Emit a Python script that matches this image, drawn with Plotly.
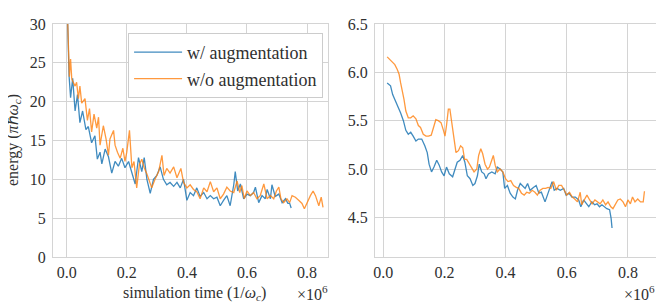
import plotly.graph_objects as go

# ---- data (simulation time in units of 1e6 / omega_c) ----
raw_w_t = [0.002, 0.008, 0.013, 0.02, 0.028, 0.036, 0.044, 0.053, 0.064, 0.072, 0.083, 0.094, 0.102,
           0.111, 0.117, 0.128, 0.139, 0.15, 0.161, 0.172, 0.183, 0.194, 0.206, 0.217, 0.228, 0.239,
           0.25, 0.258, 0.267, 0.278, 0.289, 0.3, 0.311, 0.322, 0.333, 0.344, 0.356, 0.367, 0.378,
           0.389, 0.4, 0.411, 0.422, 0.433, 0.444, 0.456, 0.467, 0.478, 0.489, 0.5, 0.511, 0.522,
           0.533, 0.544, 0.556, 0.561, 0.569, 0.578, 0.589, 0.6, 0.611, 0.622, 0.628, 0.639, 0.65,
           0.661, 0.667, 0.678, 0.683, 0.694, 0.706, 0.717, 0.728, 0.736, 0.742, 0.747]
raw_w_e = [32.0, 23.3, 20.5, 23.0, 18.8, 20.9, 17.3, 18.8, 16.4, 16.8, 14.7, 15.6, 12.6,
           13.5, 12.0, 13.9, 12.9, 10.8, 12.3, 11.7, 12.7, 11.5, 12.3, 10.8, 9.4, 12.8,
           11.0, 12.8, 10.0, 8.2, 10.0, 10.5, 11.6, 10.0, 9.3, 9.6, 9.1, 9.6, 8.9,
           10.0, 7.3, 8.3, 7.9, 8.9, 7.8, 8.3, 7.5, 7.9, 7.5, 7.7, 6.6, 7.3,
           7.9, 6.6, 9.3, 11.0, 8.5, 9.4, 7.5, 8.1, 7.9, 8.3, 9.0, 7.0, 7.9,
           7.5, 8.7, 7.5, 9.3, 7.8, 8.1, 7.0, 7.5, 6.9, 6.9, 6.3]

raw_wo_t = [0.002, 0.006, 0.009, 0.013, 0.017, 0.022, 0.028, 0.033, 0.039, 0.044, 0.05, 0.061, 0.069,
            0.076, 0.083, 0.091, 0.1, 0.106, 0.111, 0.122, 0.131, 0.139, 0.144, 0.156, 0.161, 0.169,
            0.178, 0.187, 0.194, 0.2, 0.209, 0.217, 0.224, 0.233, 0.242, 0.25, 0.258, 0.267, 0.276,
            0.283, 0.294, 0.306, 0.317, 0.324, 0.333, 0.344, 0.356, 0.367, 0.38, 0.389, 0.4, 0.411,
            0.422, 0.433, 0.444, 0.456, 0.467, 0.478, 0.489, 0.5, 0.511, 0.522, 0.533, 0.544, 0.556,
            0.567, 0.576, 0.583, 0.591, 0.6, 0.611, 0.622, 0.633, 0.644, 0.656, 0.667, 0.678, 0.689,
            0.698, 0.706, 0.713, 0.722, 0.733, 0.742, 0.75, 0.761, 0.772, 0.783, 0.791, 0.8, 0.811,
            0.82, 0.828, 0.839, 0.847, 0.853]
raw_wo_e = [32.0, 25.7, 23.2, 25.5, 22.9, 22.5, 22.0, 22.5, 20.4, 22.0, 19.8, 20.4, 17.6,
            19.1, 16.1, 18.4, 16.6, 18.0, 14.4, 16.9, 15.2, 13.1, 15.2, 16.3, 14.4, 13.5,
            12.7, 14.0, 12.3, 13.5, 16.3, 11.5, 12.3, 8.9, 11.9, 12.6, 11.5, 10.7, 9.6,
            8.9, 10.0, 11.0, 13.1, 10.5, 11.4, 10.8, 11.6, 10.2, 11.4, 9.6, 8.9, 9.3,
            8.7, 8.4, 7.5, 8.9, 8.4, 9.7, 8.4, 8.9, 7.5, 8.1, 9.0, 8.5, 8.3,
            9.8, 8.3, 9.2, 7.5, 8.5, 7.9, 8.3, 7.5, 7.9, 9.4, 7.5, 7.9, 7.5,
            8.5, 9.0, 7.5, 7.0, 7.5, 7.0, 7.9, 7.7, 7.3, 6.9, 6.2, 7.0, 7.9,
            8.5, 7.9, 6.6, 7.7, 6.4]

smooth_w_t = [0.013, 0.024, 0.031, 0.038, 0.049, 0.057, 0.066, 0.074, 0.082, 0.09, 0.098, 0.107, 0.115,
              0.126, 0.136, 0.144, 0.15, 0.158, 0.166, 0.175, 0.183, 0.191, 0.199, 0.207, 0.216, 0.227,
              0.235, 0.242, 0.251, 0.26, 0.267, 0.275, 0.284, 0.293, 0.3, 0.308, 0.314, 0.322, 0.33,
              0.336, 0.344, 0.355, 0.366, 0.373, 0.382, 0.391, 0.397, 0.406, 0.415, 0.424, 0.432, 0.439,
              0.448, 0.456, 0.464, 0.472, 0.48, 0.491, 0.5, 0.509, 0.517, 0.529, 0.537, 0.546, 0.552,
              0.559, 0.568, 0.579, 0.59, 0.598, 0.607, 0.617, 0.628, 0.639, 0.646, 0.655, 0.664, 0.672,
              0.682, 0.691, 0.699, 0.707, 0.715, 0.723, 0.731, 0.74, 0.745, 0.748]
smooth_w_e = [5.89, 5.86, 5.77, 5.72, 5.65, 5.58, 5.50, 5.40, 5.36, 5.38, 5.34, 5.29, 5.31,
              5.31, 5.24, 5.17, 5.05, 4.97, 5.02, 5.09, 5.04, 4.97, 4.93, 5.02, 4.95, 4.92,
              5.00, 5.07, 5.09, 5.14, 5.07, 4.93, 4.90, 4.83, 4.85, 4.93, 5.05, 4.97, 4.95,
              4.90, 4.95, 4.97, 4.95, 5.02, 5.00, 4.97, 4.80, 4.83, 4.75, 4.71, 4.69, 4.78,
              4.85, 4.83, 4.80, 4.85, 4.78, 4.81, 4.83, 4.75, 4.76, 4.66, 4.73, 4.80, 4.87,
              4.78, 4.80, 4.78, 4.80, 4.73, 4.75, 4.71, 4.71, 4.68, 4.61, 4.68, 4.64, 4.61,
              4.66, 4.63, 4.64, 4.61, 4.63, 4.61, 4.59, 4.58, 4.49, 4.39]

smooth_wo_t = [0.013, 0.022, 0.031, 0.038, 0.046, 0.052, 0.057, 0.063, 0.068, 0.074, 0.082, 0.09, 0.098,
               0.107, 0.115, 0.122, 0.131, 0.14, 0.148, 0.157, 0.164, 0.172, 0.18, 0.189, 0.197, 0.202,
               0.207, 0.213, 0.218, 0.225, 0.231, 0.238, 0.246, 0.253, 0.26, 0.266, 0.273, 0.282, 0.29,
               0.297, 0.306, 0.312, 0.319, 0.325, 0.333, 0.341, 0.347, 0.355, 0.36, 0.366, 0.373, 0.382,
               0.391, 0.4, 0.408, 0.417, 0.426, 0.435, 0.443, 0.452, 0.461, 0.469, 0.478, 0.487, 0.496,
               0.504, 0.513, 0.522, 0.531, 0.539, 0.548, 0.557, 0.566, 0.574, 0.583, 0.592, 0.6, 0.609,
               0.618, 0.626, 0.635, 0.644, 0.649, 0.657, 0.666, 0.675, 0.683, 0.692, 0.7, 0.709, 0.718,
               0.727, 0.735, 0.744, 0.751, 0.759, 0.767, 0.775, 0.784, 0.792, 0.8, 0.808, 0.815, 0.823,
               0.832, 0.841, 0.85, 0.854]
smooth_wo_e = [6.16, 6.13, 6.11, 6.08, 6.03, 5.98, 5.89, 5.81, 5.72, 5.60, 5.53, 5.53, 5.55,
               5.52, 5.45, 5.43, 5.36, 5.34, 5.34, 5.35, 5.43, 5.51, 5.50, 5.48, 5.40, 5.34,
               5.45, 5.62, 5.62, 5.45, 5.28, 5.17, 5.19, 5.24, 5.22, 5.10, 5.10, 5.05, 5.00,
               4.97, 5.00, 5.14, 5.21, 5.16, 5.05, 5.00, 5.02, 5.09, 5.14, 5.04, 4.97, 5.00,
               4.97, 4.90, 4.87, 4.88, 4.83, 4.81, 4.80, 4.75, 4.73, 4.76, 4.75, 4.78, 4.76,
               4.73, 4.78, 4.80, 4.80, 4.81, 4.80, 4.87, 4.78, 4.83, 4.83, 4.78, 4.73, 4.76,
               4.71, 4.69, 4.66, 4.76, 4.63, 4.68, 4.73, 4.68, 4.64, 4.68, 4.66, 4.64, 4.68,
               4.63, 4.66, 4.61, 4.59, 4.64, 4.68, 4.69, 4.66, 4.61, 4.68, 4.64, 4.71, 4.66,
               4.69, 4.66, 4.66, 4.77]

series_names = ["w/ augmentation", "w/o augmentation"]
left_yticks = [0, 5, 10, 15, 20, 25, 30]
right_yticks = [4.5, 5.0, 5.5, 6.0, 6.5]
xticks = [0.0, 0.2, 0.4, 0.6, 0.8]

BLUE = "rgba(31,119,180,0.85)"
ORANGE = "rgba(255,127,14,0.8)"
FONT = "Times New Roman, Liberation Serif, serif"
TXT = "#303030"
GRID = "#d4d4d4"

fig = go.Figure()
fig.add_trace(go.Scatter(x=raw_w_t, y=raw_w_e, mode="lines", name=series_names[0],
                         line=dict(color=BLUE, width=1.3), xaxis="x", yaxis="y", legendgroup="a"))
fig.add_trace(go.Scatter(x=raw_wo_t, y=raw_wo_e, mode="lines", name=series_names[1],
                         line=dict(color=ORANGE, width=1.3), xaxis="x", yaxis="y", legendgroup="b"))
fig.add_trace(go.Scatter(x=smooth_w_t, y=smooth_w_e, mode="lines", name=series_names[0], showlegend=False,
                         line=dict(color=BLUE, width=1.3), xaxis="x2", yaxis="y2"))
fig.add_trace(go.Scatter(x=smooth_wo_t, y=smooth_wo_e, mode="lines", name=series_names[1], showlegend=False,
                         line=dict(color=ORANGE, width=1.3), xaxis="x2", yaxis="y2"))

axis_common = dict(showgrid=True, gridcolor=GRID, gridwidth=1, showline=True, linecolor=GRID,
                   linewidth=1, mirror=True, zeroline=False, ticks="",
                   tickfont=dict(family=FONT, size=16, color=TXT))

fig.update_layout(
    width=656, height=296,
    margin=dict(l=44.5, r=6.7, t=16, b=47),
    paper_bgcolor="white", plot_bgcolor="white",
    font=dict(family=FONT, size=16, color=TXT),
    xaxis=dict(domain=[0, 0.456], range=[-0.0455, 0.871], tickvals=xticks, tickformat=".1f",
               anchor="y", ticklabelstandoff=1, **axis_common),
    yaxis=dict(range=[0, 30], tickvals=left_yticks, anchor="x", ticklabelstandoff=3, **axis_common),
    xaxis2=dict(domain=[0.533, 1.0], range=[-0.027, 0.895], tickvals=xticks, tickformat=".1f",
                anchor="y2", ticklabelstandoff=1, **axis_common),
    yaxis2=dict(range=[4.09, 6.5], tickvals=right_yticks, tickformat=".1f", anchor="x2",
                ticklabelstandoff=3, **axis_common),
    legend=dict(x=0.1243, y=0.9614, xanchor="left", yanchor="top", bgcolor="white",
                bordercolor="#cccccc", borderwidth=1, itemwidth=48, tracegroupgap=0,
                font=dict(family=FONT, size=18, color=TXT)),
    showlegend=True,
)

fig.add_annotation(text="simulation time (1/<i>ω<sub>c</sub></i>)", xref="paper", yref="paper",
                   x=0.234, y=-0.155, xanchor="center", yanchor="middle", showarrow=False,
                   font=dict(family=FONT, size=16, color=TXT))
fig.add_annotation(text="energy (<i>π</i>ℏ<i>ω<sub>c</sub></i>)", xref="paper", yref="paper",
                   x=-0.0653, y=0.5, xanchor="center", yanchor="middle", textangle=-90, showarrow=False,
                   font=dict(family=FONT, size=16, color=TXT))
fig.add_annotation(text="×10<sup>6</sup>", xref="paper", yref="paper",
                   x=0.4588, y=-0.155, xanchor="right", yanchor="middle", showarrow=False,
                   font=dict(family=FONT, size=16, color=TXT))
fig.add_annotation(text="×10<sup>6</sup>", xref="paper", yref="paper",
                   x=1.0, y=-0.155, xanchor="right", yanchor="middle", showarrow=False,
                   font=dict(family=FONT, size=16, color=TXT))

fig.write_html("out.html")
